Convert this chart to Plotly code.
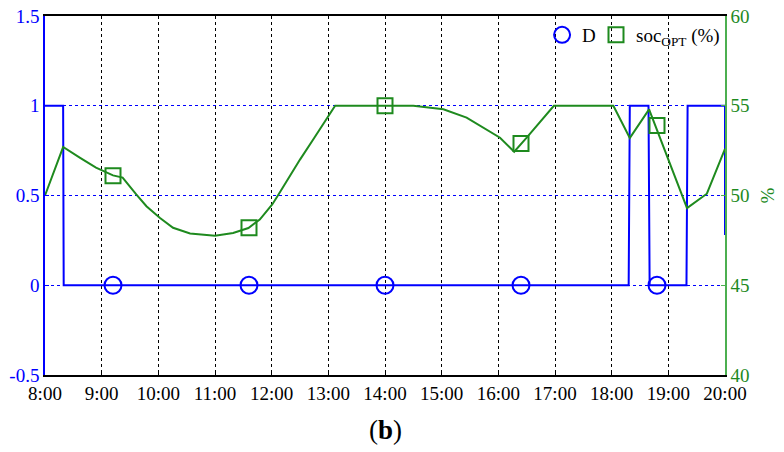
import plotly.graph_objects as go

# ---- data ----
hour_ticks = [8, 9, 10, 11, 12, 13, 14, 15, 16, 17, 18, 19, 20]
hour_labels = ["8:00", "9:00", "10:00", "11:00", "12:00", "13:00", "14:00",
               "15:00", "16:00", "17:00", "18:00", "19:00", "20:00"]

d_time = [8.0, 8.32, 8.33, 18.30, 18.32, 18.65, 18.67, 19.32, 19.34, 20.0, 20.0]
d_value = [1, 1, 0, 0, 1, 1, 0, 0, 1, 1, 0.28]

soc_time = [8.0, 8.32, 8.62, 8.9, 9.2, 9.37, 9.61, 9.79, 10.03, 10.26, 10.56, 10.91,
            11.0, 11.32, 11.59, 11.79, 12.01, 12.11, 12.5, 12.75, 13.0, 13.12,
            14.5, 15.03, 15.44, 15.79, 16.03, 16.28, 16.5, 16.98, 18.03, 18.32,
            18.66, 19.33, 19.68, 20.0]
soc_value = [50.0, 52.7, 52.1, 51.55, 51.12, 51.0, 50.06, 49.4, 48.75, 48.2, 47.88, 47.77,
             47.76, 47.91, 48.19, 48.66, 49.5, 50.0, 52.0, 53.2, 54.4, 55.0,
             55.0, 54.8, 54.34, 53.69, 53.22, 52.44, 53.22, 55.0, 55.0, 53.2,
             54.8, 49.3, 50.1, 52.6]

marker_time = [9.2, 11.6, 14.0, 16.4, 18.8]
d_marker = [0, 0, 0, 0, 0]
soc_marker = [51.1, 48.2, 55.0, 52.9, 53.9]

left_ticks = [-0.5, 0, 0.5, 1, 1.5]
left_labels = ["-0.5", "0", "0.5", "1", "1.5"]
right_ticks = [40, 45, 50, 55, 60]

BLUE = "#0000FF"
GREEN = "#1E8A1E"
AXGREEN = "#4CAF50"
FONT = "Liberation Serif"

fig = go.Figure()

fig.add_trace(go.Scatter(x=d_time, y=d_value, mode="lines",
                         line=dict(color=BLUE, width=2), showlegend=False,
                         hoverinfo="skip"))
fig.add_trace(go.Scatter(x=soc_time, y=soc_value, mode="lines", yaxis="y2",
                         line=dict(color=GREEN, width=2), showlegend=False,
                         hoverinfo="skip"))
fig.add_trace(go.Scatter(x=marker_time, y=d_marker, mode="markers", name="D",
                         legend="legend",
                         marker=dict(symbol="circle-open", size=17,
                                     color=BLUE, line=dict(width=2, color=BLUE))))
fig.add_trace(go.Scatter(x=marker_time, y=soc_marker, mode="markers", yaxis="y2",
                         name="soc<sub>OPT</sub> (%)", legend="legend2",
                         marker=dict(symbol="square-open", size=15,
                                     color=GREEN, line=dict(width=2, color=GREEN))))

fig.update_layout(
    template="none",
    width=784, height=452,
    margin=dict(l=45, r=59, t=16, b=77, autoexpand=False),
    paper_bgcolor="white", plot_bgcolor="white",
    font=dict(family=FONT, size=19, color="black"),
    xaxis=dict(range=[8, 20], tickvals=hour_ticks, ticktext=hour_labels,
               automargin=False, ticklabeloverflow="allow",
               showgrid=True, gridcolor="black", griddash="dot", gridwidth=1,
               showline=True, linecolor="black", linewidth=1.5, mirror=True,
               ticks="inside", ticklen=4, tickcolor="black", zeroline=False,
               tickfont=dict(family=FONT, size=19, color="black")),
    yaxis=dict(range=[-0.5, 1.5], tickvals=left_ticks, ticktext=left_labels,
               automargin=False, ticklabeloverflow="allow",
               showgrid=True, gridcolor=BLUE, griddash="3px,3px", gridwidth=1,
               showline=True, linecolor=BLUE, linewidth=1.5,
               ticks="inside", ticklen=4, tickcolor=BLUE, zeroline=False,
               tickfont=dict(family=FONT, size=19, color=BLUE)),
    yaxis2=dict(range=[40, 60], tickvals=right_ticks, overlaying="y", side="right",
                automargin=False, ticklabeloverflow="allow",
                showgrid=False, showline=True, linecolor=AXGREEN, linewidth=1.5,
                ticks="inside", ticklen=4, tickcolor=AXGREEN, zeroline=False,
                tickfont=dict(family=FONT, size=19, color=GREEN),
                title=dict(text="%", font=dict(family=FONT, size=19, color=GREEN),
                           standoff=12)),
    legend=dict(orientation="h", x=0.731, xanchor="left", y=1.0, yanchor="top",
                bgcolor="rgba(0,0,0,0)", itemwidth=30,
                font=dict(family=FONT, size=19, color="black")),
    legend2=dict(orientation="h", x=1.0, xanchor="right", y=1.0, yanchor="top",
                 bgcolor="rgba(0,0,0,0)", itemwidth=30,
                 font=dict(family=FONT, size=19, color="black")),
    annotations=[dict(text="(<b>b</b>)", x=0.5, y=-0.153, xref="paper", yref="paper",
                      xanchor="center", yanchor="middle", showarrow=False,
                      font=dict(family=FONT, size=27, color="black"))],
)

fig.write_html("out.html", config={"displayModeBar": False},
               post_script="document.body.style.margin='0';")
